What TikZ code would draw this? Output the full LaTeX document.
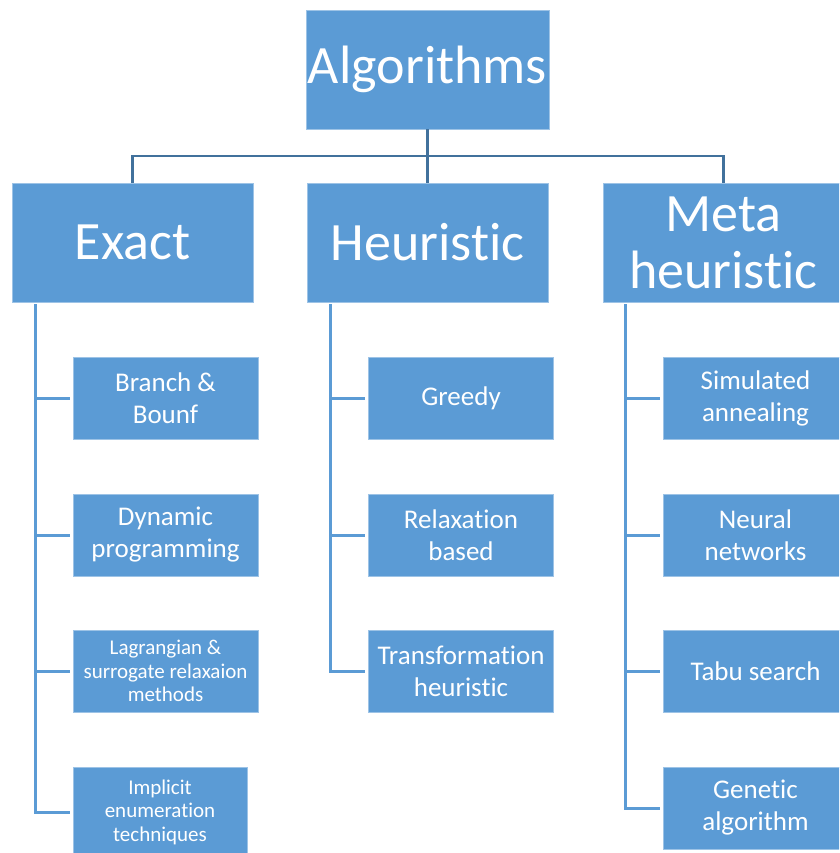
\documentclass[tikz,border=0pt]{standalone}
\usepackage{fontspec}
\setmainfont[Ligatures={NoCommon,NoRare,NoContextual}]{Carlito}
\usepackage{tikz}

\definecolor{boxblue}{HTML}{5B9BD5}
\definecolor{linedark}{HTML}{41719C}

\tikzset{
    bigbox/.style={draw=boxblue!60!white, line width=0.8pt, fill=boxblue,
        text=white, align=center, inner sep=2pt,
        minimum width=241pt, minimum height=119pt,
        font=\fontsize{54}{57}\selectfont},
    subbox/.style={draw=boxblue!60!white, line width=0.8pt, fill=boxblue,
        text=white, align=center, inner sep=2pt,
        minimum width=185pt, minimum height=82pt,
        font=\fontsize{27}{32}\selectfont},
    smalltext/.style={font=\fontsize{21}{23.5}\selectfont},
    topline/.style={draw=linedark, line width=2.2pt},
    subline/.style={draw=boxblue, line width=3pt}
}

\begin{document}
\begin{tikzpicture}[x=1pt, y=-1pt]

        \useasboundingbox (0,0) rectangle (839,853);
        \clip (0,0) rectangle (839,853);

        % Root
        \node [bigbox] (alg) at (427.5,69.5) {Algorithms};

        % Main classes
        \node [bigbox] (exa) at (132.5,242.5) {Exact};
        \node [bigbox] (heu) at (427.5,242.5) {Heuristic};
        \node [bigbox] (meta) at (723.5,242.5) {Meta\\heuristic};

        % Exact methods
        \node [subbox] (bb) at (165.5,398) {Branch \&\\Bounf};
        \node [subbox] (dp) at (165.5,535) {Dynamic\\programming};
        \node [subbox, smalltext] (lag) at (165.5,671) {Lagrangian \&\\surrogate relaxaion\\methods};
        \node [subbox, smalltext,
            minimum width=174pt,
            minimum height=90pt] (imp) at (160,812) {Implicit\\enumeration\\techniques};

        % Heuristic methods
        \node [subbox] (greedy) at (461,398) {Greedy};
        \node [subbox] (relax) at (461,535) {Relaxation\\based};
        \node [subbox] (trans) at (461,671) {Transformation\\heuristic};

        % Meta heuristic methods
        \node [subbox] (sa) at (755.5,398) {Simulated\\annealing};
        \node [subbox] (nn) at (755.5,535) {Neural\\networks};
        \node [subbox] (tabu) at (755.5,671) {Tabu search};
        \node [subbox] (gen) at (755.5,808) {Genetic\\algorithm};

        % Root connectors
        \coordinate (hub) at (427.5,156);
        \draw [topline] (alg.south) -- (heu.north);
        \draw [topline] (exa.north) |- (hub) -| (meta.north);

        % Branch connectors
        \coordinate (exaleg) at (35,304);
        \coordinate (heuleg) at (330,304);
        \coordinate (metaleg) at (625.5,304);

        \draw [subline] (exaleg) |- ([xshift=-3pt]imp.west);
        \foreach \n in {bb,dp,lag}
            \draw [subline] (exaleg |- \n.west) -- ([xshift=-3pt]\n.west);

        \draw [subline] (heuleg) |- ([xshift=-3pt]trans.west);
        \foreach \n in {greedy,relax}
            \draw [subline] (heuleg |- \n.west) -- ([xshift=-3pt]\n.west);

        \draw [subline] (metaleg) |- ([xshift=-3pt]gen.west);
        \foreach \n in {sa,nn,tabu}
            \draw [subline] (metaleg |- \n.west) -- ([xshift=-3pt]\n.west);

\end{tikzpicture}
\end{document}
